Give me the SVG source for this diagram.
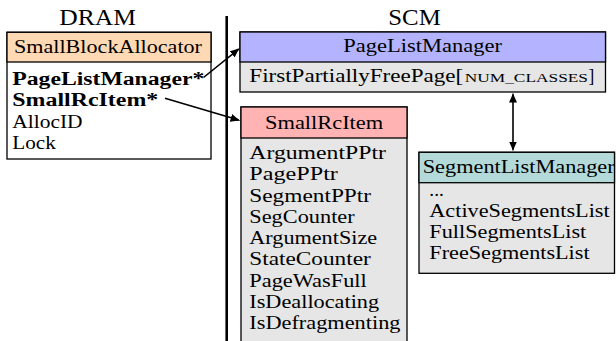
<svg xmlns="http://www.w3.org/2000/svg" width="616" height="341" viewBox="0 0 616 341">
<style>
  .t { font-family: "Liberation Serif", "Times New Roman", serif; font-size: 18.5px; fill: #000; }
  .b { font-weight: bold; }
  .ttl { font-family: "Liberation Serif", "Times New Roman", serif; font-size: 23.5px; fill: #000; }
  .sc { font-size: 13.5px; }
  .box { stroke: #000; stroke-width: 1.3; }
  .div { stroke: #000; stroke-width: 1.3; fill: none; }
  .con { stroke: #000; stroke-width: 1.6; fill: none; }
  .orange { fill: #FFD9B3; }
  .blue { fill: #B3B3FF; }
  .red { fill: #FFB3B3; }
  .teal { fill: #B3D9D9; }
  .gray { fill: #E6E6E6; }
  .white { fill: #FFFFFF; }
</style>
<defs>
  <marker id="ah" viewBox="0 0 10 8" refX="8" refY="4" markerUnits="userSpaceOnUse" markerWidth="10" markerHeight="8" orient="auto-start-reverse">
    <path d="M10,4 Q6,3 0,0 L0,8 Q6,5 10,4 Z" fill="#000"/>
  </marker>
</defs>
<rect x="0" y="0" width="616" height="341" fill="#FFFFFF"/>

<g id="titles">
  <text class="ttl" x="59.3" y="25" textLength="76.7" lengthAdjust="spacingAndGlyphs">DRAM</text>
  <text class="ttl" x="388.3" y="25" textLength="52.4" lengthAdjust="spacingAndGlyphs">SCM</text>
</g>

<g id="separator">
  <line x1="226.7" y1="16" x2="226.7" y2="341" stroke="#000" stroke-width="2.6"/>
</g>

<g id="SmallBlockAllocator">
  <rect class="box white" x="7" y="32.3" width="204" height="126.7"/>
  <rect class="box orange" x="7" y="32.3" width="204" height="29.7"/>
  <text class="t" x="14" y="52.5" textLength="188" lengthAdjust="spacingAndGlyphs">SmallBlockAllocator</text>
  <text class="t b" x="12.3" y="85" textLength="192" lengthAdjust="spacingAndGlyphs">PageListManager*</text>
  <text class="t b" x="12.3" y="106.4" textLength="146" lengthAdjust="spacingAndGlyphs">SmallRcItem*</text>
  <text class="t" x="12.3" y="127.8" textLength="70.3" lengthAdjust="spacingAndGlyphs">AllocID</text>
  <text class="t" x="12.3" y="149.2" textLength="43.5" lengthAdjust="spacingAndGlyphs">Lock</text>
</g>

<g id="PageListManager">
  <rect class="box gray" x="240" y="32" width="365.5" height="60"/>
  <rect class="box blue" x="240" y="32" width="365.5" height="30"/>
  <text class="t" x="343.3" y="51.5" textLength="158.8" lengthAdjust="spacingAndGlyphs">PageListManager</text>
  <text class="t" x="249.3" y="81.7" textLength="214" lengthAdjust="spacingAndGlyphs">FirstPartiallyFreePage[</text>
  <text class="t sc" x="464.8" y="81.7" textLength="123.2" lengthAdjust="spacingAndGlyphs">NUM_CLASSES</text>
  <text class="t" x="588.6" y="81.7" textLength="5.8" lengthAdjust="spacingAndGlyphs">]</text>
</g>

<g id="SmallRcItem">
  <rect class="box gray" x="241" y="107" width="166" height="240"/>
  <rect class="box red" x="241" y="107" width="166" height="31"/>
  <text class="t" x="265" y="129" textLength="118.2" lengthAdjust="spacingAndGlyphs">SmallRcItem</text>
  <text class="t" x="249.3" y="159" textLength="136.6" lengthAdjust="spacingAndGlyphs">ArgumentPPtr</text>
  <text class="t" x="249.3" y="180.25" textLength="88.6" lengthAdjust="spacingAndGlyphs">PagePPtr</text>
  <text class="t" x="249.3" y="201.5" textLength="121.8" lengthAdjust="spacingAndGlyphs">SegmentPPtr</text>
  <text class="t" x="249.3" y="222.75" textLength="105.4" lengthAdjust="spacingAndGlyphs">SegCounter</text>
  <text class="t" x="249.3" y="244" textLength="127.8" lengthAdjust="spacingAndGlyphs">ArgumentSize</text>
  <text class="t" x="249.3" y="265.25" textLength="121.5" lengthAdjust="spacingAndGlyphs">StateCounter</text>
  <text class="t" x="249.3" y="286.5" textLength="117.5" lengthAdjust="spacingAndGlyphs">PageWasFull</text>
  <text class="t" x="249.3" y="307.75" textLength="129.8" lengthAdjust="spacingAndGlyphs">IsDeallocating</text>
  <text class="t" x="249.3" y="329" textLength="151.2" lengthAdjust="spacingAndGlyphs">IsDefragmenting</text>
</g>

<g id="SegmentListManager">
  <rect class="box gray" x="419" y="152.3" width="195.5" height="121"/>
  <rect class="box teal" x="419" y="152.3" width="195.5" height="30.4"/>
  <text class="t" x="422.7" y="172.7" textLength="192" lengthAdjust="spacingAndGlyphs">SegmentListManager</text>
  <text class="t" x="429.3" y="195.5" textLength="14.5" lengthAdjust="spacingAndGlyphs">...</text>
  <text class="t" x="429.3" y="216.7" textLength="180.4" lengthAdjust="spacingAndGlyphs">ActiveSegmentsList</text>
  <text class="t" x="429.3" y="237.9" textLength="157" lengthAdjust="spacingAndGlyphs">FullSegmentsList</text>
  <text class="t" x="429.3" y="259.1" textLength="160.3" lengthAdjust="spacingAndGlyphs">FreeSegmentsList</text>
</g>

<g id="connectors">
  <line class="con" x1="203.5" y1="77.5" x2="238.4" y2="49.3" marker-end="url(#ah)"/>
  <line class="con" x1="165" y1="98.3" x2="238.6" y2="120.1" marker-end="url(#ah)"/>
  <line class="con" x1="513" y1="94.5" x2="513" y2="149.5" marker-start="url(#ah)" marker-end="url(#ah)"/>
</g>
</svg>
